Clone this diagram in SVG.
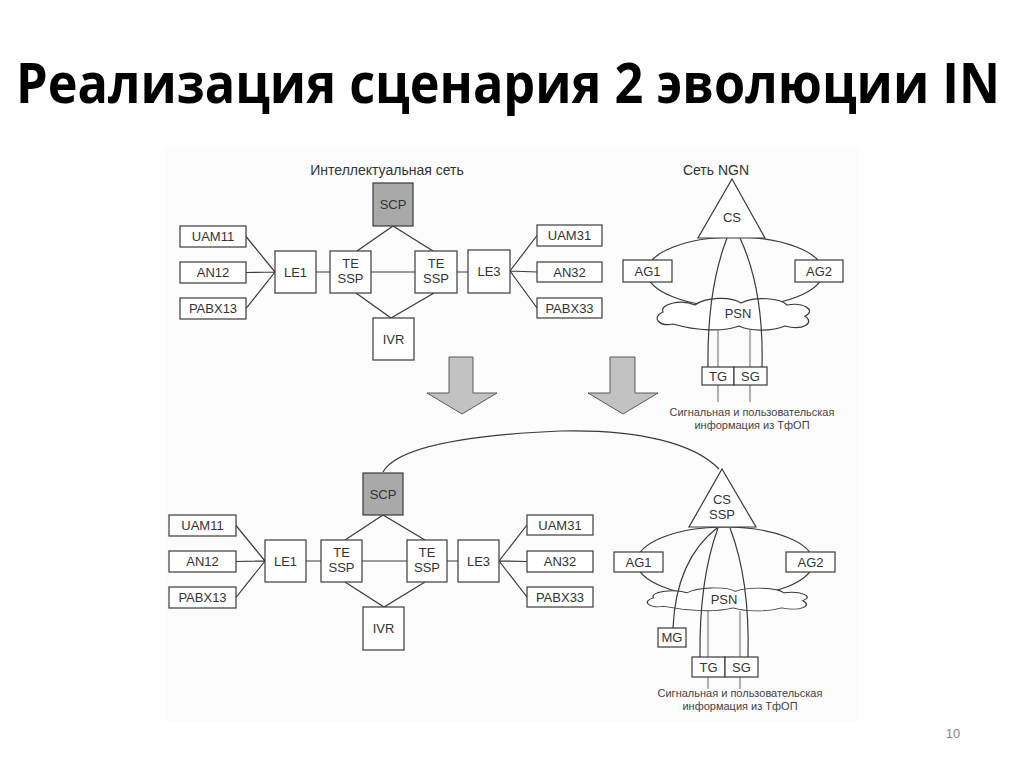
<svg xmlns="http://www.w3.org/2000/svg" width="1024" height="768" viewBox="0 0 1024 768">
<style>
.bx{fill:#fff;stroke:#3a3a3a;stroke-width:1.2}
.scp{fill:#a9a9a9;stroke:#3a3a3a;stroke-width:1.2}
.ln{fill:none;stroke:#3a3a3a;stroke-width:1.2}
.th{fill:none;stroke:#555;stroke-width:0.9}
.t{font-family:"Liberation Sans",Arial,sans-serif;font-size:13px;fill:#333;text-anchor:middle}
.s{font-family:"Liberation Sans",Arial,sans-serif;font-size:11px;fill:#444;text-anchor:middle}
.h{font-family:"Liberation Sans",Arial,sans-serif;font-size:14px;fill:#333;text-anchor:middle}
.arr{fill:#c2c2c2;stroke:#5a5a5a;stroke-width:1}
.cl{fill:#fff;stroke:#3a3a3a;stroke-width:1.2}
</style>
<defs>
<path id="cloud" d="M20,27 C6,30 -2,20 10,15 C6,7 28,2 42,8 C52,0 78,-1 88,6 C102,-1 128,1 134,8 C150,5 164,13 152,19 C162,26 150,34 132,29 C118,35 96,34 86,29 C70,35 44,34 20,27 Z"/>
</defs>
<rect x="165" y="148" width="694" height="574" fill="#fcfcfc"/>
<text x="16" y="103" font-family="'Open Sans','Liberation Sans',sans-serif" font-weight="bold" font-size="56" fill="#000" textLength="984" lengthAdjust="spacingAndGlyphs">Реализация сценария 2 эволюции IN</text>
<text x="387" y="175" class="h">Интеллектуальная сеть</text>
<text x="716" y="175" class="h">Сеть NGN</text>

<g id="connectors">
<path class="ln" d="M246,236.5 L275,272 M246,272.5 L275,272 M246,308.5 L275,272 M316,272 H330 M371,272 H415 M457,272 H468"/>
<path class="ln" d="M357,251 L393,226 L433,251 M356,293 L391,318 L434,293"/>
<path class="ln" d="M510,271 L537,235.5 M510,271 L537,272 M510,271 L537,308"/>
<path class="ln" d="M236,525.5 L265,561 M236,561.5 L265,561 M236,597.5 L265,561 M306,561 H321 M362,561 H407 M447,561 H458"/>
<path class="ln" d="M345,540 L383,515 L425,540 M345,582 L384,607 L425,582"/>
<path class="ln" d="M499,561 L527,525 M499,561 L527,561.5 M499,561 L527,597"/>
<path class="ln" d="M383,472 C398,446 470,435 560,431 C640,429 695,444 719,469"/>
</g>

<g id="arrow-left"><path class="arr" d="M449,357 H473 V393 H497 L462,414 L427,393 H449 Z"/></g>
<g id="arrow-right"><path class="arr" d="M610,357 H635 V393 H658 L623,414 L588,393 H610 Z"/></g>

<g id="scp1"><rect class="scp" x="373" y="183" width="40" height="43"/><text class="t" x="393" y="209">SCP</text></g>
<g id="uam11a"><rect class="bx" x="180" y="226" width="66" height="21"/><text class="t" x="213" y="241">UAM11</text></g>
<g id="an12a"><rect class="bx" x="180" y="262" width="66" height="21"/><text class="t" x="213" y="277">AN12</text></g>
<g id="pabx13a"><rect class="bx" x="180" y="298" width="66" height="21"/><text class="t" x="213" y="313">PABX13</text></g>
<g id="le1a"><rect class="bx" x="275" y="251" width="41" height="42"/><text class="t" x="295.5" y="277">LE1</text></g>
<g id="tessp1a"><rect class="bx" x="330" y="251" width="41" height="42"/><text class="t" x="350.5" y="268">TE</text><text class="t" x="350.5" y="283">SSP</text></g>
<g id="tessp2a"><rect class="bx" x="415" y="251" width="42" height="42"/><text class="t" x="436" y="268">TE</text><text class="t" x="436" y="283">SSP</text></g>
<g id="ivra"><rect class="bx" x="373" y="318" width="41" height="42"/><text class="t" x="393.5" y="344">IVR</text></g>
<g id="le3a"><rect class="bx" x="468" y="250" width="42" height="43"/><text class="t" x="489" y="276">LE3</text></g>
<g id="uam31a"><rect class="bx" x="537" y="225" width="65" height="21"/><text class="t" x="569.5" y="240">UAM31</text></g>
<g id="an32a"><rect class="bx" x="537" y="262" width="65" height="20"/><text class="t" x="569.5" y="276.5">AN32</text></g>
<g id="pabx33a"><rect class="bx" x="537" y="298" width="65" height="20"/><text class="t" x="569.5" y="312.5">PABX33</text></g>

<g id="ngn1">
<ellipse class="ln" cx="735" cy="272" rx="88" ry="35"/>
<g id="ag1a"><rect class="bx" x="623" y="260" width="49" height="22"/><text class="t" x="647.5" y="276">AG1</text></g>
<g id="ag2a"><rect class="bx" x="795" y="260" width="48" height="22"/><text class="t" x="819" y="276">AG2</text></g>
<g id="psna"><use href="#cloud" class="cl" transform="translate(653,297)"/><text class="t" x="738" y="318">PSN</text></g>
<g id="csa"><path class="bx" d="M732,179 L765,238 L698,238 Z"/><text class="t" x="732" y="222">CS</text></g>
<path class="ln" d="M727,238 Q707,290 708,367 M740,238 Q764,290 762,367"/>
<path class="th" d="M718,330 V367 M750,330 V367 M718,385 V402 M750,385 V402"/>
<g id="tga"><rect class="bx" x="702" y="367" width="32" height="18"/><text class="t" x="718" y="381">TG</text></g>
<g id="sga"><rect class="bx" x="734" y="367" width="33" height="18"/><text class="t" x="750.5" y="381">SG</text></g>
<text class="s" x="752" y="416">Сигнальная и пользовательская</text>
<text class="s" x="752" y="429">информация из ТфОП</text>
</g>

<g id="scp2"><rect class="scp" x="363" y="473" width="40" height="42"/><text class="t" x="383" y="499">SCP</text></g>
<g id="uam11b"><rect class="bx" x="169" y="515" width="67" height="21"/><text class="t" x="202.5" y="530">UAM11</text></g>
<g id="an12b"><rect class="bx" x="169" y="551" width="67" height="21"/><text class="t" x="202.5" y="566">AN12</text></g>
<g id="pabx13b"><rect class="bx" x="169" y="587" width="67" height="21"/><text class="t" x="202.5" y="602">PABX13</text></g>
<g id="le1b"><rect class="bx" x="265" y="540" width="41" height="42"/><text class="t" x="285.5" y="566">LE1</text></g>
<g id="tessp1b"><rect class="bx" x="321" y="540" width="41" height="42"/><text class="t" x="341.5" y="557">TE</text><text class="t" x="341.5" y="572">SSP</text></g>
<g id="tessp2b"><rect class="bx" x="407" y="540" width="40" height="42"/><text class="t" x="427" y="557">TE</text><text class="t" x="427" y="572">SSP</text></g>
<g id="ivrb"><rect class="bx" x="363" y="607" width="41" height="43"/><text class="t" x="383.5" y="633">IVR</text></g>
<g id="le3b"><rect class="bx" x="458" y="540" width="41" height="42"/><text class="t" x="478.5" y="566">LE3</text></g>
<g id="uam31b"><rect class="bx" x="527" y="515" width="66" height="20"/><text class="t" x="560" y="529.5">UAM31</text></g>
<g id="an32b"><rect class="bx" x="527" y="551" width="66" height="21"/><text class="t" x="560" y="566">AN32</text></g>
<g id="pabx33b"><rect class="bx" x="527" y="587" width="66" height="20"/><text class="t" x="560" y="601.5">PABX33</text></g>

<g id="ngn2">
<ellipse class="ln" cx="725" cy="562" rx="88" ry="35"/>
<g id="ag1b"><rect class="bx" x="614" y="552" width="49" height="20"/><text class="t" x="638.5" y="567">AG1</text></g>
<g id="ag2b"><rect class="bx" x="786" y="552" width="49" height="20"/><text class="t" x="810.5" y="567">AG2</text></g>
<g id="psnb"><use href="#cloud" class="cl" transform="translate(643,587) scale(1.05,0.72)"/><text class="t" x="724" y="604">PSN</text></g>
<g id="cssspb"><path class="bx" d="M722,469 L756,527 L689,527 Z"/><text class="t" x="722" y="504">CS</text><text class="t" x="722" y="519">SSP</text></g>
<path class="ln" d="M717,528 Q676,560 673,628 M718,528 Q699,580 700,657 M730,528 Q750,580 748,657"/>
<path class="th" d="M708,611 V657 M740,611 V657 M708,677 V689 M740,677 V689"/>
<g id="mg"><rect class="bx" x="658" y="628" width="28" height="19"/><text class="t" x="672" y="642">MG</text></g>
<g id="tgb"><rect class="bx" x="692" y="657" width="33" height="20"/><text class="t" x="708.5" y="672">TG</text></g>
<g id="sgb"><rect class="bx" x="725" y="657" width="33" height="20"/><text class="t" x="741.5" y="672">SG</text></g>
<text class="s" x="740" y="697">Сигнальная и пользовательская</text>
<text class="s" x="740" y="710">информация из ТфОП</text>
</g>

<text x="953" y="738" font-family="'Liberation Sans',Arial,sans-serif" font-size="13" fill="#888" text-anchor="middle">10</text>
</svg>
